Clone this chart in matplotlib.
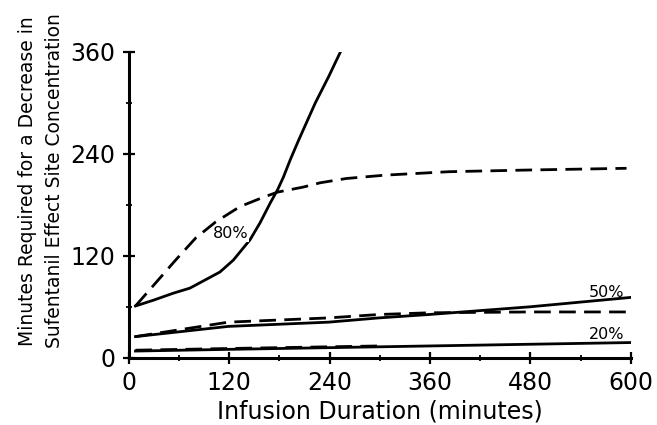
import matplotlib.pyplot as plt
from matplotlib.ticker import MultipleLocator

# 80% decrement: solid and dashed curves
t80_solid = [8, 30, 53, 73, 92, 109, 125, 145, 157, 169, 178, 185, 193, 203, 223, 239, 254]
v80_solid = [61, 68, 76, 82, 92, 101, 115, 139, 159, 182, 198, 213, 233, 256, 300, 331, 362]
t80_dash = [8, 32, 56, 80, 104, 133, 161, 178, 209, 229, 260, 307, 383, 479, 595]
v80_dash = [61, 88, 115, 141, 160, 178, 189, 195, 201, 206, 211, 215, 219, 221, 223]

# 50% decrement
t50_solid = [8, 119, 239, 299, 359, 479, 599]
v50_solid = [25, 37, 42, 47, 51, 60, 71]
t50_dash = [8, 119, 239, 299, 359, 479, 599]
v50_dash = [25, 42, 47, 51, 53, 54, 54]

# 20% decrement
t20_solid = [8, 120, 240, 360, 480, 600]
v20_solid = [8, 10, 12, 14, 16, 18]
t20_dash = [8, 120, 240, 300]
v20_dash = [9, 11, 13, 14]

plt.rcParams["font.family"] = "DejaVu Sans"

fig = plt.figure(figsize=(6.57, 4.25), dpi=100)
ax = fig.add_axes([0.196, 0.158, 0.764, 0.72])

dash = (0, (6, 3))
lw = 2.0
ax.plot(t80_solid, v80_solid, "k-", lw=lw)
ax.plot(t80_dash, v80_dash, color="k", ls=dash, lw=lw)
ax.plot(t50_solid, v50_solid, "k-", lw=lw)
ax.plot(t50_dash, v50_dash, color="k", ls=dash, lw=lw)
ax.plot(t20_solid, v20_solid, "k-", lw=lw)
ax.plot(t20_dash, v20_dash, color="k", ls=dash, lw=lw)

ax.text(122, 146, "80%", fontsize=11.5, ha="center", va="center",
        bbox=dict(facecolor="white", edgecolor="none", pad=0.3))
ax.text(571, 72, "50%", fontsize=11.5, ha="center", va="baseline")
ax.text(571, 22, "20%", fontsize=11.5, ha="center", va="baseline")

ax.set_xlim(0, 600)
ax.set_ylim(0, 360)
ax.xaxis.set_major_locator(MultipleLocator(120))
ax.xaxis.set_minor_locator(MultipleLocator(60))
ax.yaxis.set_major_locator(MultipleLocator(120))
ax.yaxis.set_minor_locator(MultipleLocator(60))

for side in ["top", "right"]:
    ax.spines[side].set_visible(False)
for side in ["left", "bottom"]:
    ax.spines[side].set_linewidth(2.2)

ax.tick_params(which="major", direction="inout", length=9, width=1.6,
               labelsize=17, pad=5)
ax.tick_params(which="minor", direction="inout", length=5, width=1.3)

ax.set_xlabel("Infusion Duration (minutes)", fontsize=17, labelpad=3)
fig.text(41 / 657, 1 - 181 / 425,
         "Minutes Required for a Decrease in\nSufentanil Effect Site Concentration",
         fontsize=13.5, rotation=90, ha="center", va="center", linespacing=1.5)

fig.savefig("out.png", dpi=100)
